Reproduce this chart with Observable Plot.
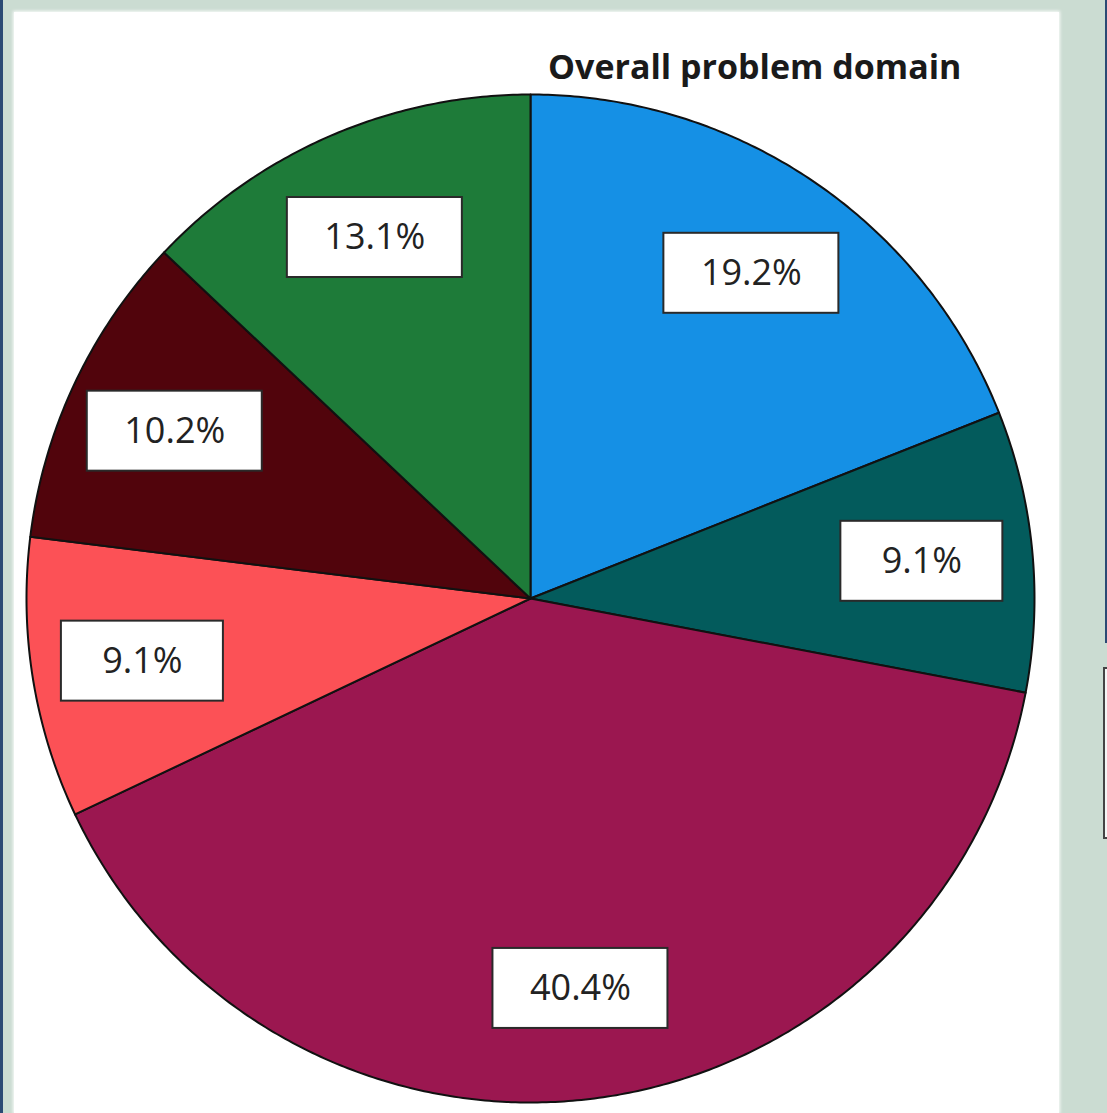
<!DOCTYPE html>
<html>
<head>
<meta charset="utf-8">
<script src="https://cdn.jsdelivr.net/npm/d3@7"></script>
<script src="https://cdn.jsdelivr.net/npm/@observablehq/plot@0.6"></script>
<style>
  html, body { margin: 0; padding: 0; }
  body { width: 1107px; height: 1113px; background: #cbdcd2; position: relative; overflow: hidden; font-family: "Open Sans", sans-serif; }
  #leftbar { position: absolute; left: 0; top: 0; width: 3px; height: 1113px; background: #2b4a74; }
  #rightbar { position: absolute; left: 1105px; top: 0; width: 2px; height: 643px; background: #2b4a74; }
  #rightbox { position: absolute; left: 1103px; top: 667px; width: 10px; height: 168px; border: 2px solid #444; background: #f4f6f5; }
  #panel { position: absolute; left: 14px; top: 12px; width: 1045px; height: 1101px; background: #fff; box-shadow: 0 0 3px 1px rgba(255,255,255,0.9); }
  #title { position: absolute; left: 534px; top: 37px; font-family: "Open Sans", sans-serif; font-weight: bold; font-size: 34px; line-height: 1; color: #1a1a1a; white-space: nowrap; letter-spacing: 0; }
  #chart { position: absolute; left: 0; top: 0; }
</style>
</head>
<body>
<div id="leftbar"></div>
<div id="rightbar"></div>
<div id="rightbox"></div>
<div id="panel">
  <div id="chart"></div>
  <div id="title">Overall problem domain</div>
</div>
<script>
// Data (clockwise from 12 o'clock)
const categories = ["Domain A", "Domain B", "Domain C", "Domain D", "Domain E", "Domain F"];
const percents = [19.2, 9.1, 40.4, 9.1, 10.2, 13.1];
const colors = ["#1590e5", "#035b5c", "#9b1750", "#fc5156", "#51040c", "#1e7b39"];

const total = d3.sum(percents);
let acc = 0;
const slices = percents.map((p, i) => {
  const a0 = acc / total * 2 * Math.PI;
  acc += p;
  const a1 = acc / total * 2 * Math.PI;
  return {cat: categories[i], value: p, a0, a1, color: colors[i]};
});

// Polygon points for each wedge (angle measured clockwise from north)
function wedgePoints(s) {
  const pts = [{x: 0, y: 0}];
  const n = Math.max(8, Math.ceil((s.a1 - s.a0) / (Math.PI / 360)));
  for (let k = 0; k <= n; k++) {
    const a = s.a0 + (s.a1 - s.a0) * k / n;
    pts.push({x: Math.sin(a), y: Math.cos(a)});
  }
  pts.push({x: 0, y: 0});
  return pts;
}

const R = 504; // pixels per data unit
const labelR = 0.78;
const labels = slices.map(s => {
  const m = (s.a0 + s.a1) / 2;
  const text = s.value.toFixed(1) + "%";
  const wpx = 110 + 13 * text.length;
  return {x: labelR * Math.sin(m), y: labelR * Math.cos(m), text, w: wpx / R / 2, h: 80 / R / 2};
});

const marks = [
  ...slices.map(s => Plot.line(wedgePoints(s), {
    x: "x", y: "y", fill: s.color, stroke: "#111", strokeWidth: 2, strokeLinejoin: "round", curve: "linear"
  })),
  Plot.rect(labels, {
    x1: d => d.x - d.w, x2: d => d.x + d.w, y1: d => d.y - d.h, y2: d => d.y + d.h,
    fill: "white", stroke: "#2a2a2a", strokeWidth: 2
  }),
  Plot.text(labels, {
    x: "x", y: "y", text: "text", fontSize: 36, fill: "#222",
    fontFamily: "'Open Sans', sans-serif", textAnchor: "middle", lineAnchor: "middle"
  })
];

const chart = Plot.plot({
  width: 1045,
  height: 1101,
  marginLeft: 12,
  marginRight: 25,
  marginTop: 82,
  marginBottom: 11,
  x: {domain: [-1, 1], axis: null},
  y: {domain: [-1, 1], axis: null},
  style: {background: "transparent", overflow: "visible"},
  marks
});
document.getElementById("chart").appendChild(chart);
</script>
</body>
</html>
